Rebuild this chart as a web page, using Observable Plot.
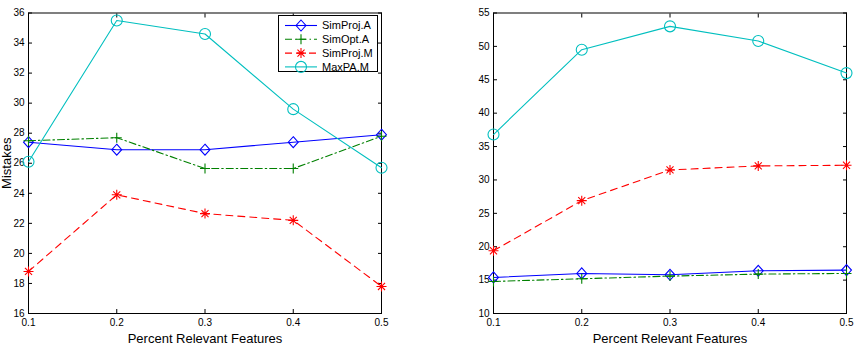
<!DOCTYPE html>
<html>
<head>
<meta charset="utf-8">
<script src="https://cdn.jsdelivr.net/npm/d3@7"></script>
<script src="https://cdn.jsdelivr.net/npm/@observablehq/plot@0.6"></script>
<style>
  body { margin: 0; background: #fff; font-family: "Liberation Sans", Arial, sans-serif; }
  #wrap { position: relative; width: 860px; height: 346px; display: flex; }
  #legend { position: absolute; left: 278px; top: 15px; }
</style>
</head>
<body>
<div id="wrap"></div>
<script>
// x positions shared by both panels
const fractions = [0.1, 0.2, 0.3, 0.4, 0.5];
const seriesNames = ["SimProj.A", "SimOpt.A", "SimProj.M", "MaxPA.M"];

// left panel: mistakes per method
const leftSimProjA = [27.4, 26.9, 26.9, 27.4, 27.9];
const leftSimOptA  = [27.5, 27.7, 25.65, 25.65, 27.8];
const leftSimProjM = [18.8, 23.9, 22.65, 22.2, 17.8];
const leftMaxPAM   = [26.1, 35.5, 34.6, 29.6, 25.7];
const leftYTicks   = [16, 18, 20, 22, 24, 26, 28, 30, 32, 34, 36];

// right panel
const rightSimProjA = [15.4, 16.0, 15.8, 16.4, 16.5];
const rightSimOptA  = [14.8, 15.2, 15.6, 15.9, 16.0];
const rightSimProjM = [19.4, 26.9, 31.5, 32.1, 32.2];
const rightMaxPAM   = [36.8, 49.5, 53.0, 50.8, 46.0];
const rightYTicks   = [10, 15, 20, 25, 30, 35, 40, 45, 50, 55];

const xLabel = "Percent Relevant Features";
const yLabel = "Mistakes";

// marker shapes drawn as outlines; size = pi * r^2
const radiusOf = size => Math.sqrt(size / Math.PI);
const diamondSym = {draw(ctx, size) {
  const r = radiusOf(size);
  ctx.moveTo(0, -r); ctx.lineTo(r * 0.9, 0); ctx.lineTo(0, r); ctx.lineTo(-r * 0.9, 0); ctx.closePath();
}};
const plusSym = {draw(ctx, size) {
  const r = radiusOf(size);
  ctx.moveTo(-r, 0); ctx.lineTo(r, 0); ctx.moveTo(0, -r); ctx.lineTo(0, r);
}};
const starSym = {draw(ctx, size) {
  const r = radiusOf(size), d = r * Math.SQRT1_2;
  ctx.moveTo(-r, 0); ctx.lineTo(r, 0); ctx.moveTo(0, -r); ctx.lineTo(0, r);
  ctx.moveTo(-d, -d); ctx.lineTo(d, d); ctx.moveTo(-d, d); ctx.lineTo(d, -d);
}};
const circleSym = {draw(ctx, size) {
  const r = radiusOf(size);
  ctx.moveTo(r, 0); ctx.arc(0, 0, r, 0, 2 * Math.PI);
}};

const styles = {
  "SimProj.A": {color: "#0000ff", dash: null,        symbol: diamondSym, r: 5.5},
  "SimOpt.A":  {color: "#008000", dash: "7,3,1.5,3", symbol: plusSym,    r: 5},
  "SimProj.M": {color: "#ff0000", dash: "7,5",       symbol: starSym,    r: 5},
  "MaxPA.M":   {color: "#00bfbf", dash: null,        symbol: circleSym,  r: 5.5}
};

const font = '"Liberation Sans", Arial, sans-serif';
const plain = d => String(d);

function panel({width, marginLeft, marginRight, yDomain, yTicks, ylabel, values}) {
  const marks = [
    Plot.frame({stroke: "#000", strokeWidth: 1}),
    // tick labels and axis titles
    Plot.axisX({ticks: fractions, tickSize: 0, tickPadding: 5, tickFormat: plain, fontSize: 10, label: null}),
    Plot.axisX({ticks: [], tickSize: 0, fontSize: 13, label: xLabel, labelAnchor: "center", labelArrow: "none", labelOffset: 29}),
    Plot.axisY({ticks: yTicks, tickSize: 0, tickPadding: 4, tickFormat: plain, fontSize: 10, label: null}),
    // inward ticks on all four sides
    Plot.axisX({anchor: "bottom", ticks: fractions, tickSize: -4, tickFormat: () => "", label: null}),
    Plot.axisX({anchor: "top", ticks: fractions, tickSize: -4, tickFormat: () => "", label: null}),
    Plot.axisY({anchor: "left", ticks: yTicks, tickSize: -4, tickFormat: () => "", label: null}),
    Plot.axisY({anchor: "right", ticks: yTicks, tickSize: -4, tickFormat: () => "", label: null})
  ];
  if (ylabel) {
    marks.push(Plot.axisY({ticks: [], tickSize: 0, fontSize: 13, label: ylabel, labelAnchor: "center", labelArrow: "none", labelOffset: 27}));
  }
  seriesNames.forEach((name, k) => {
    const st = styles[name];
    const data = fractions.map((f, i) => ({x: f, y: values[k][i]}));
    marks.push(Plot.line(data, {x: "x", y: "y", stroke: st.color, strokeWidth: 1.1, strokeDasharray: st.dash}));
    marks.push(Plot.dot(data, {x: "x", y: "y", stroke: st.color, fill: "none", symbol: st.symbol, r: st.r, strokeWidth: 1.1}));
  });
  return Plot.plot({
    width, height: 346,
    marginLeft, marginRight, marginTop: 12.5, marginBottom: 33,
    x: {domain: [0.1, 0.5]},
    y: {domain: yDomain},
    style: {fontFamily: font, color: "#000", background: "transparent", overflow: "visible"},
    marks
  });
}

const wrap = document.getElementById("wrap");
wrap.append(panel({
  width: 430, marginLeft: 28, marginRight: 49,
  yDomain: [16, 36], yTicks: leftYTicks, ylabel: yLabel,
  values: [leftSimProjA, leftSimOptA, leftSimProjM, leftMaxPAM]
}));
wrap.append(panel({
  width: 430, marginLeft: 63, marginRight: 14,
  yDomain: [10, 55], yTicks: rightYTicks, ylabel: null,
  values: [rightSimProjA, rightSimOptA, rightSimProjM, rightMaxPAM]
}));

// legend box inside the left panel
const lg = d3.select(wrap).append("svg").attr("id", "legend")
  .attr("width", 101).attr("height", 58);
lg.append("rect").attr("x", 0.5).attr("y", 0.5).attr("width", 99).attr("height", 56)
  .attr("fill", "#fff").attr("stroke", "#000");
seriesNames.forEach((name, i) => {
  const st = styles[name];
  const y = 10.5 + i * 13.8;
  lg.append("line").attr("x1", 7).attr("x2", 39).attr("y1", y).attr("y2", y)
    .attr("stroke", st.color).attr("stroke-width", 1.1).attr("stroke-dasharray", st.dash);
  lg.append("path").attr("transform", `translate(23,${y})`)
    .attr("d", d3.symbol(st.symbol, Math.PI * st.r * st.r)())
    .attr("fill", "none").attr("stroke", st.color).attr("stroke-width", 1.1);
  lg.append("text").attr("x", 44).attr("y", y).attr("dy", "0.35em")
    .attr("font-family", font).attr("font-size", 11).text(name);
});
</script>
</body>
</html>
